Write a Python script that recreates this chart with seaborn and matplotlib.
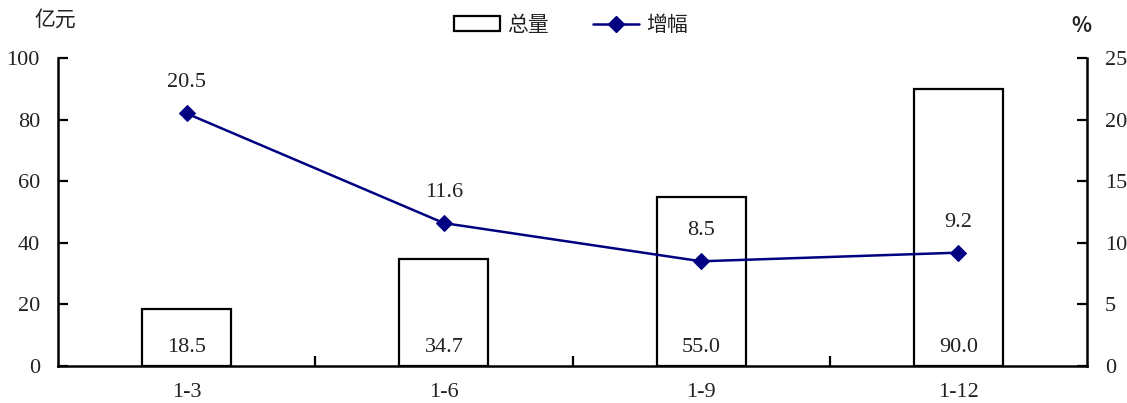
import numpy as np
import pandas as pd
import matplotlib
matplotlib.use("Agg")
import matplotlib.pyplot as plt
import seaborn as sns
from matplotlib.lines import Line2D
from matplotlib.patches import Patch

categories = ["1-3", "1-6", "1-9", "1-12"]
total = [18.5, 34.7, 55.0, 90.0]
growth = [20.5, 11.6, 8.5, 9.2]
left_ticks = [0, 20, 40, 60, 80, 100]
right_ticks = [0, 5, 10, 15, 20, 25]

sns.set_theme(style="white")
plt.rcParams['font.family'] = ['Liberation Serif', 'Noto Sans CJK SC']
plt.rcParams['axes.unicode_minus'] = False

NAVY = "#000080"
FS = 16
CFS = 15

fig = plt.figure(figsize=(11.27, 4.03), dpi=100)
ax = fig.add_axes([58/1127, 1-366/403, (1087-58)/1127, (366-58)/403])

df = pd.DataFrame({"cat": categories, "total": total})
sns.barplot(data=df, x="cat", y="total", ax=ax, color="white",
            edgecolor="black", linewidth=1.6, width=0.346, saturation=1)

ax.set_xlim(-0.5, len(categories) - 0.5)
ax.set_ylim(0, 100)
ax.set_yticks(left_ticks)
ax.set_yticklabels([str(t) for t in left_ticks], fontsize=FS, color="#222222")
ax.set_xlabel("")
ax.set_ylabel("")
ax.set_xticks(range(len(categories)))
ax.set_xticklabels(categories, fontsize=FS, color="#222222")
ax.set_xticks([i + 0.5 for i in range(len(categories) - 1)], minor=True)
ax.tick_params(axis="x", which="major", length=0, pad=12)
ax.tick_params(axis="x", which="minor", direction="in", length=7, width=1.6, color="black", bottom=True)
ax.tick_params(axis="y", direction="in", length=7, width=1.6, color="black", left=True, pad=13)

for s in ["top", "right"]:
    ax.spines[s].set_visible(False)
for s in ["left", "bottom"]:
    ax.spines[s].set_color("black")
    ax.spines[s].set_linewidth(1.8)

for i, v in enumerate(total):
    ax.text(i, 6, f"{v:.1f}", ha="center", va="center", fontsize=FS, color="#222222")

ax2 = ax.twinx()
sns.lineplot(x=np.arange(len(categories)), y=growth, ax=ax2, color=NAVY,
             linewidth=1.8, marker="D", markersize=8, markeredgecolor=NAVY)
ax2.set_ylim(0, 25)
ax2.set_yticks(right_ticks)
ax2.set_yticklabels([str(t) for t in right_ticks], fontsize=FS, color="#222222")
ax2.tick_params(axis="y", direction="in", length=7, width=1.6, color="black", right=True, pad=13)
ax2.set_ylabel("")
for s in ["top", "left", "bottom"]:
    ax2.spines[s].set_visible(False)
ax2.spines["right"].set_color("black")
ax2.spines["right"].set_linewidth(1.8)
ax2.set_xlim(-0.5, len(categories) - 0.5)

for i, v in enumerate(growth):
    ax2.annotate(f"{v:.1f}", (i, v), xytext=(0, 22), textcoords="offset points",
                 ha="center", va="center", fontsize=FS, color="#222222")

fig.text(55/1127, 1-20/403, "亿元", ha="center", va="center", fontsize=CFS,
         family=['Noto Sans CJK SC'], color="#222222")
fig.text(1081/1127, 1-25/403, "%", ha="center", va="center", fontsize=CFS,
         family=['Noto Sans CJK SC'], fontweight="bold", color="#222222")

handles = [Patch(facecolor="white", edgecolor="black", linewidth=1.6),
           Line2D([0], [0], color=NAVY, linewidth=1.8, marker="D", markersize=8)]
leg = fig.legend(handles, ["总量", "增幅"], loc="center", bbox_to_anchor=(571/1127, 1-25/403),
                 ncol=2, frameon=False, handlelength=2.2, handleheight=0.7,
                 columnspacing=2.1, handletextpad=0.35,
                 prop={"family": ["Noto Sans CJK SC"], "size": CFS})
for t in leg.get_texts():
    t.set_color("#222222")

fig.savefig("out.png", dpi=100, facecolor="white")
